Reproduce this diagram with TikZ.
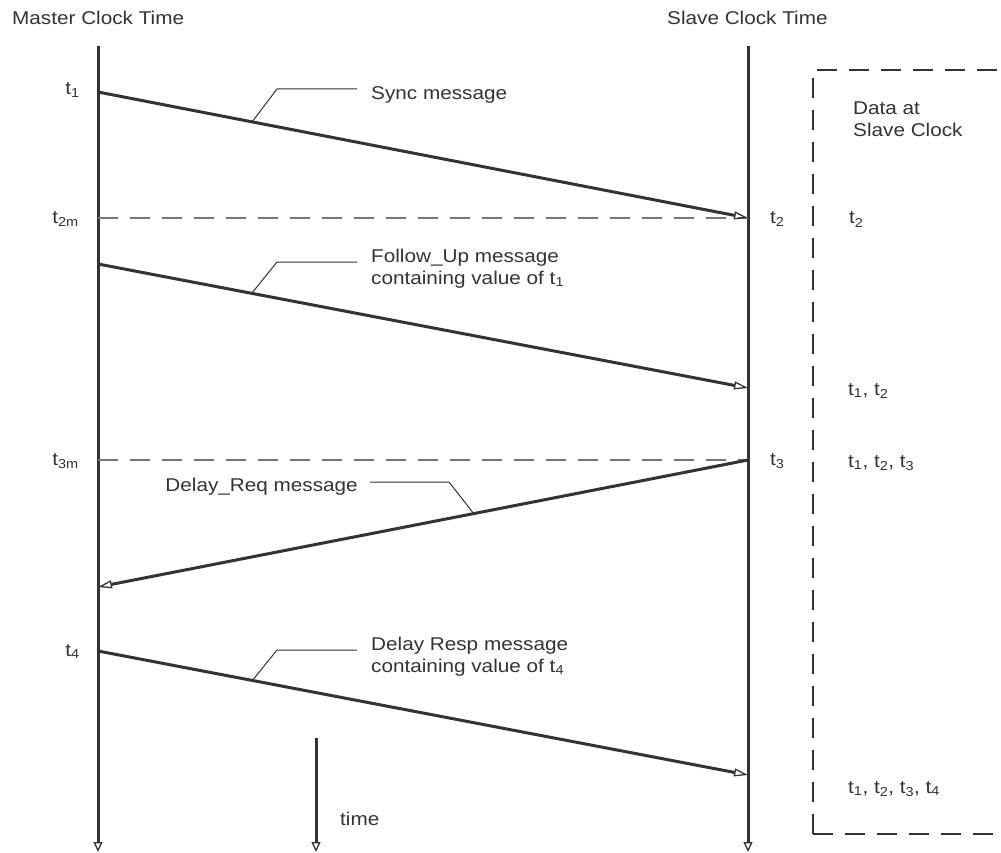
\documentclass[tikz,border=0pt]{standalone}
\usepackage{fontspec}
\setmainfont{Liberation Sans}[FakeStretch=1.12]
\usetikzlibrary{arrows.meta}
\definecolor{ink}{HTML}{333333}
\definecolor{grayd}{HTML}{777777}
\tikzset{
  axisline/.style={draw=ink, line width=3pt, -{Triangle[open, length=10pt, width=9pt, line width=1.3pt]}},
  msg/.style={draw=ink, line width=3pt, -{Triangle[open, length=14pt, width=8pt, line width=1.3pt]}},
  refline/.style={draw=grayd, line width=1.5pt, dash pattern=on 20pt off 12pt},
  leader/.style={draw=ink, line width=1pt},
  boxline/.style={draw=ink, line width=2.8pt, dash pattern=on 20pt off 12pt},
  lbl/.style={text=ink, font=\fontsize{18.5}{22}\selectfont, inner sep=0pt},
}
\begin{document}
\begin{tikzpicture}[x=1pt, y=-1pt]
\useasboundingbox (0,0) rectangle (1001,853);
% headings
\node[lbl, anchor=base west] (mct) at (12,25) {Master Clock Time};
\node[lbl, anchor=base west] (sct) at (667,25) {Slave Clock Time};
% axes
\coordinate (mtop) at (98,46);
\coordinate (mbot) at (98,852);
\coordinate (stop) at (748,46);
\coordinate (sbot) at (748,852);
\coordinate (ttop) at (316,738);
\coordinate (tbot) at (316,852);
\draw[axisline] (mtop) -- (mbot);
\draw[axisline] (stop) -- (sbot);
\draw[axisline] (ttop) -- (tbot);
\node[lbl, anchor=base west] (time) at (340,825) {time};
% event points
\coordinate (m1) at (98,92);
\coordinate (s2) at (748,218);
\coordinate (m2m) at (98,218);
\coordinate (mf) at (98,264);
\coordinate (sf) at (748,388);
\coordinate (m3m) at (98,460);
\coordinate (s3) at (748,460);
\coordinate (mr) at (98,587);
\coordinate (m4) at (98,651);
\coordinate (s4) at (748,775);
% reference dashed lines
\draw[refline] (m2m) -- (s2);
\draw[refline] (m3m) -- (s3);
% messages
\draw[msg] (m1) -- (s2);
\draw[msg] (mf) -- (sf);
\draw[msg] (s3) -- (mr);
\draw[msg] (m4) -- (s4);
% time labels
\node[lbl, anchor=base east] (t1) at (80,95) {t\textsubscript{1}};
\node[lbl, anchor=base east] (t2m) at (79,223) {t\textsubscript{2m}};
\node[lbl, anchor=base east] (t3m) at (79,465) {t\textsubscript{3m}};
\node[lbl, anchor=base east] (t4) at (80,656) {t\textsubscript{4}};
\node[lbl, anchor=base west] (t2) at (770,223) {t\textsubscript{2}};
\node[lbl, anchor=base west] (t3) at (770,465) {t\textsubscript{3}};
% leaders and message labels
\coordinate (a1) at (252,122); \coordinate (b1) at (277,89); \coordinate (c1) at (357,89);
\draw[leader] (a1) -- (b1) -- (c1);
\node[lbl, anchor=base west] (sync) at (371,100) {Sync message};
\coordinate (a2) at (252,293); \coordinate (b2) at (277,262); \coordinate (c2) at (357,262);
\draw[leader] (a2) -- (b2) -- (c2);
\node[lbl, anchor=base west, align=left] (fu) at (371,284) {Follow\_Up message\\containing value of t\textsubscript{1}};
\coordinate (a3) at (474,514); \coordinate (b3) at (449,482); \coordinate (c3) at (370,482);
\draw[leader] (a3) -- (b3) -- (c3);
\node[lbl, anchor=base east] (dr) at (358,491) {Delay\_Req message};
\coordinate (a4) at (252,681); \coordinate (b4) at (277,650); \coordinate (c4) at (357,650);
\draw[leader] (a4) -- (b4) -- (c4);
\node[lbl, anchor=base west, align=left] (dresp) at (371,672) {Delay Resp message\\containing value of t\textsubscript{4}};
% data box
\draw[boxline] (813,834) -- (813,70) -- (1010,70);
\draw[boxline] (813,834) -- (1010,834);
\node[lbl, anchor=base west, align=left] (data) at (853,137) {Data at\\Slave Clock};
\node[lbl, anchor=base west] (d1) at (849,224) {t\textsubscript{2}};
\node[lbl, anchor=base west] (d2) at (848,395) {t\textsubscript{1}, t\textsubscript{2}};
\node[lbl, anchor=base west] (d3) at (848,467) {t\textsubscript{1}, t\textsubscript{2}, t\textsubscript{3}};
\node[lbl, anchor=base west] (d4) at (848,793) {t\textsubscript{1}, t\textsubscript{2}, t\textsubscript{3}, t\textsubscript{4}};
\end{tikzpicture}
\end{document}
